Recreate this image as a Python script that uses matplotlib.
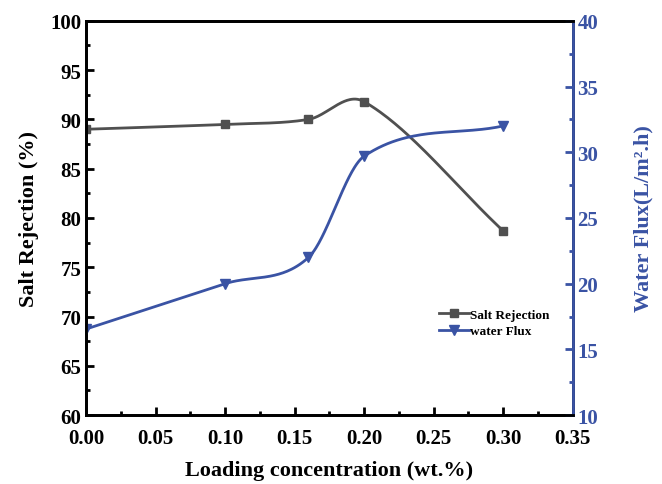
import numpy as np
import matplotlib.pyplot as plt
from matplotlib.ticker import MultipleLocator, FormatStrFormatter

plt.rcParams['font.family'] = ['Liberation Serif', 'DejaVu Serif']
plt.rcParams['font.weight'] = 'bold'

loading = np.array([0.0, 0.1, 0.16, 0.2, 0.3])
salt_rejection = np.array([89.0, 89.5, 90.0, 91.8, 78.7])
water_flux = np.array([16.55, 20.0, 22.0, 29.7, 32.0])

gray = '#505050'
blue = '#3a53a4'


def smooth_line(x, y, n=60):
    # cardinal (Catmull-Rom style) spline just for drawing the connecting line
    k = len(x)
    m = np.zeros(k)
    m[0] = (y[1] - y[0]) / (x[1] - x[0])
    m[-1] = (y[-1] - y[-2]) / (x[-1] - x[-2])
    for i in range(1, k - 1):
        m[i] = (y[i + 1] - y[i - 1]) / (x[i + 1] - x[i - 1])
    xs_all, ys_all = [], []
    for i in range(k - 1):
        h = x[i + 1] - x[i]
        t = np.linspace(0, 1, n)
        h00 = 2 * t ** 3 - 3 * t ** 2 + 1
        h10 = t ** 3 - 2 * t ** 2 + t
        h01 = -2 * t ** 3 + 3 * t ** 2
        h11 = t ** 3 - t ** 2
        xs_all.append(x[i] + t * h)
        ys_all.append(h00 * y[i] + h10 * h * m[i] + h01 * y[i + 1] + h11 * h * m[i + 1])
    return np.concatenate(xs_all), np.concatenate(ys_all)


fig, ax = plt.subplots(figsize=(6.62, 4.85), dpi=100)
fig.subplots_adjust(left=0.13, right=0.865, top=0.955, bottom=0.142)
ax2 = ax.twinx()

sx, sy = smooth_line(loading, salt_rejection)
ax.plot(sx, sy, color=gray, lw=2)
ax.plot(loading, salt_rejection, 's', color=gray, ms=6)
wx, wy = smooth_line(loading, water_flux)
ax2.plot(wx, wy, color=blue, lw=2)
ax2.plot(loading, water_flux, 'v', color=blue, ms=7)

# legend handles
h1, = ax.plot([], [], 's-', color=gray, lw=2, ms=6, label='Salt Rejection')
h2, = ax.plot([], [], 'v-', color=blue, lw=2, ms=7, label='water Flux')
ax.legend(handles=[h1, h2], loc='upper left', bbox_to_anchor=(0.7, 0.3),
          frameon=False, prop={'size': 9.5, 'weight': 'bold'},
          handlelength=2.3, handletextpad=0.1, labelspacing=0.3)

ax.set_xlim(0, 0.35)
ax.set_ylim(60, 100)
ax2.set_ylim(10, 40)
ax.xaxis.set_major_locator(MultipleLocator(0.05))
ax.xaxis.set_minor_locator(MultipleLocator(0.025))
ax.xaxis.set_major_formatter(FormatStrFormatter('%.2f'))
ax.yaxis.set_major_locator(MultipleLocator(5))
ax.yaxis.set_minor_locator(MultipleLocator(2.5))
ax2.yaxis.set_major_locator(MultipleLocator(5))
ax2.yaxis.set_minor_locator(MultipleLocator(2.5))

for a in (ax, ax2):
    for s in a.spines.values():
        s.set_linewidth(2)
ax2.spines['right'].set_color(blue)

ax.tick_params(axis='both', which='major', direction='in', length=6, width=2,
               labelsize=15)
ax.tick_params(axis='both', which='minor', direction='in', length=3, width=2)
ax.tick_params(axis='x', which='major', pad=9)
ax.tick_params(axis='y', which='both', right=False)
ax.tick_params(axis='x', which='both', top=False)
ax2.tick_params(axis='y', which='major', direction='in', length=6, width=2,
                labelsize=15, colors=blue)
ax2.tick_params(axis='y', which='minor', direction='in', length=3, width=2,
                colors=blue)

ax.set_xlabel('Loading concentration (wt.%)', fontsize=16, fontweight='bold',
              labelpad=9)
ax.set_ylabel('Salt Rejection (%)', fontsize=16, fontweight='bold', labelpad=8)
ax2.set_ylabel('Water Flux(L/m².h)', fontsize=16,
               fontweight='bold', color=blue, labelpad=25)

fig.savefig('out.png', dpi=100)
